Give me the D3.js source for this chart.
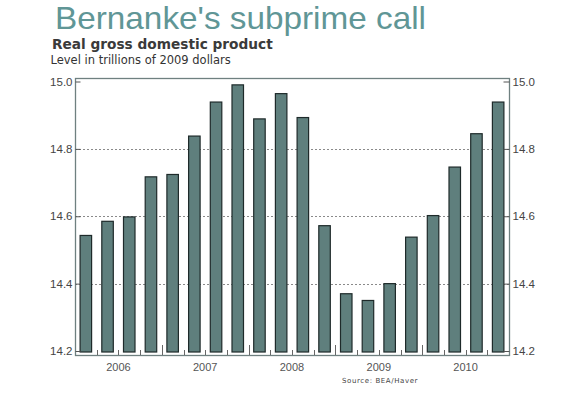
<!DOCTYPE html>
<html>
<head>
<meta charset="utf-8">
<script src="https://cdn.jsdelivr.net/npm/d3@7"></script>
<style>
  body { margin: 0; background: #fff; }
</style>
</head>
<body>
<div class="container"></div>
<script>
const quarters = [
    '2006Q1', '2006Q2', '2006Q3', '2006Q4',
    '2007Q1', '2007Q2', '2007Q3', '2007Q4',
    '2008Q1', '2008Q2', '2008Q3', '2008Q4',
    '2009Q1', '2009Q2', '2009Q3', '2009Q4',
    '2010Q1', '2010Q2', '2010Q3', '2010Q4',
];
const gdp = [
    14.543, 14.585, 14.598, 14.717,
    14.724, 14.838, 14.939, 14.990,
    14.889, 14.964, 14.893, 14.572,
    14.370, 14.350, 14.400, 14.538,
    14.602, 14.746, 14.845, 14.939,
];
const years = ['2006', '2007', '2008', '2009', '2010'];
const yTicks = [14.2, 14.4, 14.6, 14.8, 15.0];
const gridTicks = [14.4, 14.6, 14.8];

const w = 569;
const h = 398;
const margin = {
    top: 78,
    left: 75,
    right: 60,
    bottom: 43,
}
const plotRight = w - margin.right;
const plotBottom = h - margin.bottom;

const svg = d3.select('.container')
    .append('svg')
    .attr('width', w)
    .attr('height', h)
    .style('display', 'block');

// title is wider than plain Arial, stretch it to the reference width
svg.append('text')
    .text("Bernanke's subprime call")
    .attr('x', 55)
    .attr('y', 28.5)
    .attr('textLength', 371)
    .attr('lengthAdjust', 'spacingAndGlyphs')
    .style('font-family', '"Liberation Sans", Arial, sans-serif')
    .style('font-size', '30.5px')
    .style('fill', '#609696');

svg.append('text')
    .text('Real gross domestic product')
    .attr('x', 52)
    .attr('y', 49)
    .style('font-family', '"DejaVu Sans", Verdana, sans-serif')
    .style('font-size', '13.7px')
    .style('font-weight', 'bold')
    .style('fill', '#3a3a3a');

svg.append('text')
    .text('Level in trillions of 2009 dollars')
    .attr('x', 50.5)
    .attr('y', 64)
    .style('font-family', '"DejaVu Sans", Verdana, sans-serif')
    .style('font-size', '11.5px')
    .style('fill', '#333');

const xScale = d3.scaleBand()
    .domain(quarters)
    .range([margin.left, plotRight])
    .paddingInner(0.47)
    .paddingOuter(0.235);
const yScale = d3.scaleLinear()
    .domain([14.2, 15.0])
    .range([351, 81.5]);

// dotted grid
svg.append('g')
    .selectAll('line')
    .data(gridTicks)
    .join('line')
    .attr('x1', margin.left)
    .attr('x2', plotRight)
    .attr('y1', d => Math.round(yScale(d)) + 0.5)
    .attr('y2', d => Math.round(yScale(d)) + 0.5)
    .style('stroke', '#8a8a8a')
    .style('stroke-width', 1)
    .style('stroke-dasharray', '2,2');

// bars
svg.append('g')
    .selectAll('rect')
    .data(gdp)
    .join('rect')
    .attr('x', (d, i) => xScale(quarters[i]))
    .attr('y', d => yScale(d))
    .attr('width', xScale.bandwidth())
    .attr('height', d => yScale(14.2) + 1 - yScale(d))
    .style('fill', '#5f7f7d')
    .style('stroke', '#1e2a2a')
    .style('stroke-width', 1.2);

// frame
svg.append('rect')
    .attr('x', margin.left + 0.5)
    .attr('y', margin.top + 0.5)
    .attr('width', plotRight - margin.left)
    .attr('height', plotBottom - margin.top)
    .style('fill', 'none')
    .style('stroke', '#6f8080')
    .style('stroke-width', 1.3);

const yAxisLeft = d3.axisLeft(yScale)
    .tickValues(yTicks)
    .tickFormat(d3.format('.1f'))
    .tickSizeInner(-5)
    .tickSizeOuter(0)
    .tickPadding(3);
const yAxisRight = d3.axisRight(yScale)
    .tickValues(yTicks)
    .tickFormat(d3.format('.1f'))
    .tickSizeInner(-6)
    .tickSizeOuter(0)
    .tickPadding(3);

[[yAxisLeft, margin.left + 0.5], [yAxisRight, plotRight + 0.5]].forEach(([axis, x]) => {
    const g = svg.append('g')
        .attr('transform', `translate(${x}, 0)`)
        .call(axis);
    g.select('.domain').remove();
    g.selectAll('line').style('stroke', '#555');
    g.selectAll('text')
        .style('font-family', '"Liberation Sans", Arial, sans-serif')
        .style('font-size', '11.5px')
        .style('fill', '#444');
});

// quarter ticks on the bottom axis
const step = xScale.step();
const boundaries = quarters.slice(1).map(q => xScale(q) - step * xScale.paddingInner() / 2);
svg.append('g')
    .selectAll('line')
    .data(boundaries)
    .join('line')
    .attr('x1', d => Math.round(d) + 0.5)
    .attr('x2', d => Math.round(d) + 0.5)
    .attr('y1', plotBottom)
    .attr('y2', (d, i) => (i + 1) % 4 === 0 ? plotBottom - 10 : plotBottom - 5)
    .style('stroke', '#666')
    .style('stroke-width', 1);

svg.append('g')
    .selectAll('text')
    .data(years)
    .join('text')
    .text(d => d)
    .attr('x', d => (xScale(d + 'Q1') + xScale(d + 'Q4') + xScale.bandwidth()) / 2)
    .attr('y', 371)
    .attr('text-anchor', 'middle')
    .style('font-family', '"Liberation Sans", Arial, sans-serif')
    .style('font-size', '11px')
    .style('fill', '#555');

svg.append('text')
    .text('Source: BEA/Haver')
    .attr('x', 342)
    .attr('y', 383)
    .style('font-family', '"DejaVu Sans", Verdana, sans-serif')
    .style('font-size', '7px')
    .style('letter-spacing', '0.6px')
    .style('fill', '#444');
</script>
</body>
</html>
